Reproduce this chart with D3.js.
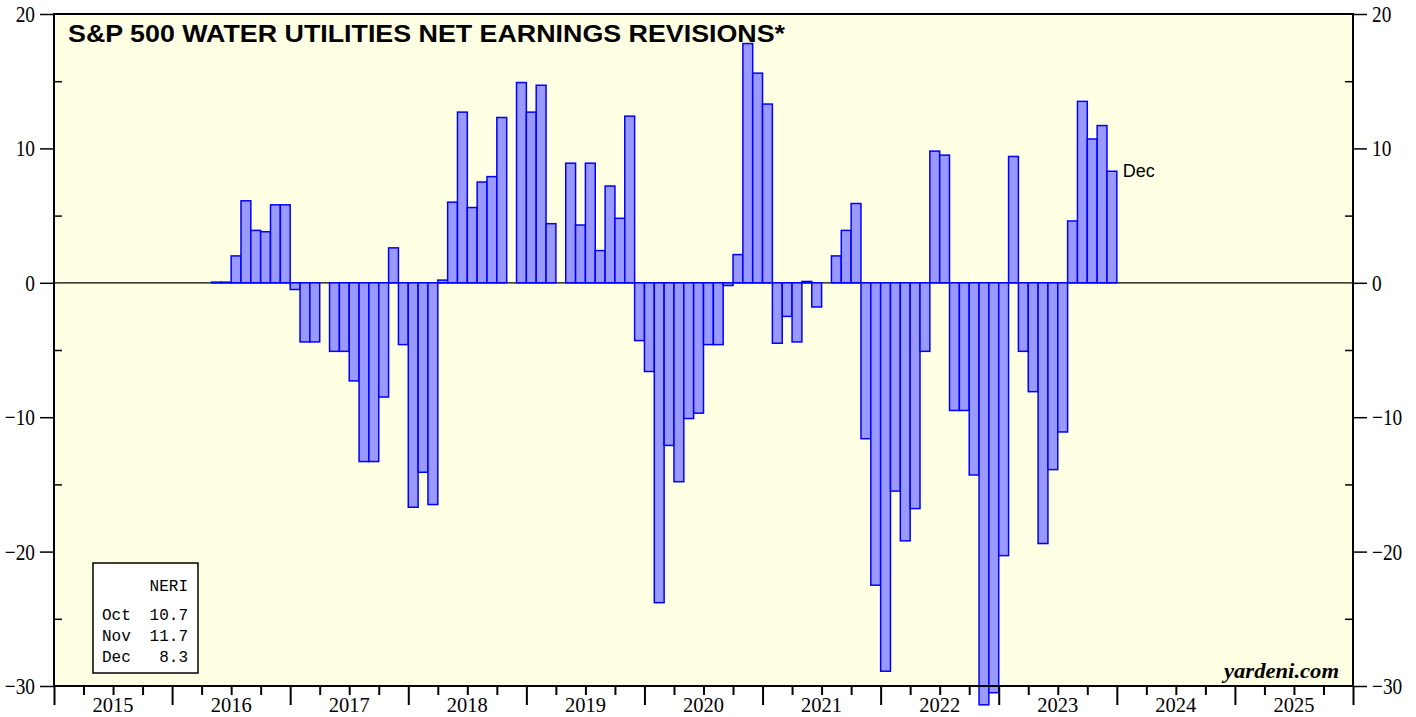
<!DOCTYPE html>
<html>
<head>
<meta charset="utf-8">
<script src="https://cdn.jsdelivr.net/npm/d3@7"></script>
<style>
  html, body { margin: 0; padding: 0; background: #ffffff; }
  svg { display: block; }
</style>
</head>
<body>
<svg id="chart" width="1416" height="717"></svg>
<script>
// ---------------- DATA ----------------
const title = "S&P 500 WATER UTILITIES NET EARNINGS REVISIONS*";
const years = ["2015","2016","2017","2018","2019","2020","2021","2022","2023","2024","2025"];
const yTicks = [-30, -20, -10, 0, 10, 20];
const yMinorTicks = [-25, -15, -5, 5, 15];
const firstMonth = "2016-05"; // first month of the series
// monthly NERI values (null = no bar)
const values2016 = [0.05, 0.05, 2.0, 6.1, 3.9, 3.8, 5.8, 5.8];                       // May..Dec
const values2017 = [-0.5, -4.4, -4.4, null, -5.1, -5.1, -7.3, -13.3, -13.3, -8.5, 2.6, -4.6];
const values2018 = [-16.7, -14.1, -16.5, 0.2, 6.0, 12.7, 5.6, 7.5, 7.9, 12.3, null, 14.9];
const values2019 = [12.7, 14.7, 4.4, null, 8.9, 4.3, 8.9, 2.4, 7.2, 4.8, 12.4, -4.3];
const values2020 = [-6.6, -23.8, -12.1, -14.8, -10.1, -9.7, -4.6, -4.6, -0.2, 2.1, 17.8, 15.6];
const values2021 = [13.3, -4.5, -2.5, -4.4, 0.1, -1.8, null, 2.0, 3.9, 5.9, -11.6, -22.5];
const values2022 = [-28.9, -15.5, -19.2, -16.8, -5.1, 9.8, 9.5, -9.5, -9.5, -14.3, -31.4, -30.5];
const values2023 = [-20.3, 9.4, -5.1, -8.1, -19.4, -13.9, -11.1, 4.6, 13.5, 10.7, 11.7, 8.3];
const legendTitle = "NERI";
const legendMonths = ["Oct", "Nov", "Dec"];
const legendValues = ["10.7", "11.7", "8.3"];
const lastLabel = "Dec";
const sourceText = "yardeni.com";

// ---------------- BUILD ----------------
const allValues = [].concat(values2016, values2017, values2018, values2019,
                            values2020, values2021, values2022, values2023);
const [fy, fm] = firstMonth.split("-").map(Number);
const startIndex = (fy - 2015) * 12 + (fm - 1);
const data = allValues.map((v, i) => ({ m: startIndex + i, v: v }));

const svg = d3.select("#chart");
const L = 54, R = 1353, T = 14, B = 686;

const x = d3.scaleLinear().domain([0, years.length * 12]).range([L, R]);
const y = d3.scaleLinear().domain([-30, 20]).range([B, T]);

// plot background
svg.append("rect").attr("x", L).attr("y", T).attr("width", R - L).attr("height", B - T)
  .attr("fill", "#ffffe3");

// zero line
svg.append("line").attr("x1", L).attr("x2", R).attr("y1", y(0)).attr("y2", y(0))
  .attr("stroke", "#000").attr("stroke-width", 1.2);

// bars
svg.append("g").selectAll("rect")
  .data(data.filter(d => d.v !== null))
  .join("rect")
  .attr("x", d => x(d.m))
  .attr("width", d => x(d.m + 1) - x(d.m))
  .attr("y", d => Math.min(y(d.v), y(0)))
  .attr("height", d => Math.max(Math.abs(y(d.v) - y(0)), 0.6))
  .attr("fill", "#9999ff")
  .attr("stroke", "#0000ff")
  .attr("stroke-width", 1.5);

// frame
svg.append("rect").attr("x", L).attr("y", T).attr("width", R - L).attr("height", B - T)
  .attr("fill", "none").attr("stroke", "#000").attr("stroke-width", 2);

function condense(sel, f) {
  sel.each(function () {
    const len = this.getComputedTextLength();
    d3.select(this).attr("textLength", len * f).attr("lengthAdjust", "spacingAndGlyphs");
  });
}

const serif = "'Liberation Serif', 'Times New Roman', serif";

// left axis
const gL = svg.append("g").attr("transform", `translate(${L},0)`)
  .call(d3.axisLeft(y).tickValues(yTicks).tickSize(14).tickPadding(5).tickFormat(d3.format("d")));
gL.select(".domain").remove();
gL.selectAll("line").attr("stroke", "#000").attr("stroke-width", 1.5);
gL.selectAll("text").attr("font-family", serif).attr("font-size", 23).attr("fill", "#000")
  .attr("dy", "0.33em").call(condense, 0.84);

// right axis
const gR = svg.append("g").attr("transform", `translate(${R},0)`)
  .call(d3.axisRight(y).tickValues(yTicks).tickSize(14).tickPadding(5).tickFormat(d3.format("d")));
gR.select(".domain").remove();
gR.selectAll("line").attr("stroke", "#000").attr("stroke-width", 1.5);
gR.selectAll("text").attr("font-family", serif).attr("font-size", 23).attr("fill", "#000")
  .attr("dy", "0.33em").call(condense, 0.84);

// minor y ticks (inside)
const gLm = svg.append("g").attr("transform", `translate(${L},0)`)
  .call(d3.axisRight(y).tickValues(yMinorTicks).tickSize(8).tickFormat(""));
gLm.select(".domain").remove();
gLm.selectAll("line").attr("stroke", "#000").attr("stroke-width", 1.5);
const gRm = svg.append("g").attr("transform", `translate(${R},0)`)
  .call(d3.axisLeft(y).tickValues(yMinorTicks).tickSize(8).tickFormat(""));
gRm.select(".domain").remove();
gRm.selectAll("line").attr("stroke", "#000").attr("stroke-width", 1.5);

// x axis: year ticks (major) and quarter ticks (minor)
const yearIdx = d3.range(0, years.length * 12 + 1, 12);
const quarterIdx = d3.range(0, years.length * 12 + 1, 3).filter(d => d % 12 !== 0);
const gXm = svg.append("g").attr("transform", `translate(0,${B})`)
  .call(d3.axisBottom(x).tickValues(quarterIdx).tickSize(9).tickFormat(""));
gXm.select(".domain").remove();
gXm.selectAll("line").attr("stroke", "#000").attr("stroke-width", 2);
const gX = svg.append("g").attr("transform", `translate(0,${B})`)
  .call(d3.axisBottom(x).tickValues(yearIdx).tickSize(19).tickFormat(""));
gX.select(".domain").remove();
gX.selectAll("line").attr("stroke", "#000").attr("stroke-width", 2);

// year labels at mid-year
svg.append("g").selectAll("text").data(years).join("text")
  .attr("x", (d, i) => x(i * 12 + 6))
  .attr("y", 712)
  .attr("text-anchor", "middle")
  .attr("font-family", serif).attr("font-size", 22).attr("fill", "#000")
  .attr("textLength", 41).attr("lengthAdjust", "spacingAndGlyphs")
  .text(d => d);

// title
svg.append("text").attr("x", 68).attr("y", 42)
  .attr("font-family", "'Liberation Sans', Arial, sans-serif").attr("font-weight", "bold")
  .attr("font-size", 23).attr("fill", "#000")
  .attr("textLength", 717).attr("lengthAdjust", "spacingAndGlyphs")
  .text(title);

// last value label
const lastD = data[data.length - 1];
svg.append("text").attr("x", x(lastD.m + 1) + 6).attr("y", y(lastD.v) + 6)
  .attr("font-family", "'Liberation Sans', Arial, sans-serif")
  .attr("font-size", 18).attr("fill", "#000").text(lastLabel);

// source
svg.append("text").attr("x", 1339).attr("y", 678).attr("text-anchor", "end")
  .attr("font-family", serif).attr("font-weight", "bold").attr("font-style", "italic")
  .attr("font-size", 22).attr("fill", "#000")
  .attr("textLength", 115).attr("lengthAdjust", "spacingAndGlyphs")
  .text(sourceText);

// legend box
const lg = svg.append("g");
lg.append("rect").attr("x", 93).attr("y", 563).attr("width", 105).attr("height", 110)
  .attr("fill", "#ffffff").attr("stroke", "#000").attr("stroke-width", 1.5);
const mono = "'Liberation Mono', 'Courier New', monospace";
lg.append("text").attr("x", 188).attr("y", 591).attr("text-anchor", "end")
  .attr("font-family", mono).attr("font-size", 16).attr("fill", "#000").text(legendTitle);
legendMonths.forEach((m, i) => {
  lg.append("text").attr("x", 102).attr("y", 620 + i * 21)
    .attr("font-family", mono).attr("font-size", 16).attr("fill", "#000").text(m);
  lg.append("text").attr("x", 188).attr("y", 620 + i * 21).attr("text-anchor", "end")
    .attr("font-family", mono).attr("font-size", 16).attr("fill", "#000").text(legendValues[i]);
});
</script>
</body>
</html>
